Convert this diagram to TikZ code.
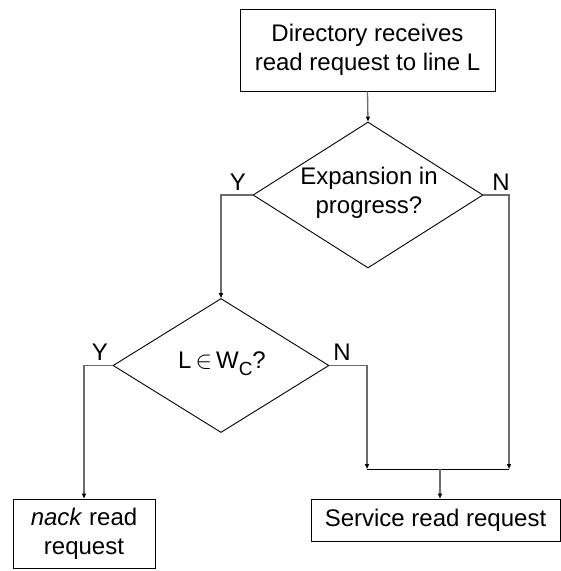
\documentclass[tikz,border=0pt]{standalone}
\usepackage{fontspec}
\setmainfont{Liberation Sans}
\usetikzlibrary{shapes.geometric,arrows.meta}
\begin{document}
\begin{tikzpicture}[x=1pt,y=-1pt,
  every node/.style={font=\fontsize{24}{29}\selectfont},
  box/.style={draw=black,line width=0.9pt,inner sep=0pt,align=center},
  dia/.style={draw=black,line width=0.9pt,diamond,inner sep=0pt,align=center},
  conn/.style={draw=black!58,line width=1.3pt,-{Triangle[length=5pt,width=4pt,fill=black,color=black]}},
  lbl/.style={inner sep=0pt}]
\useasboundingbox (0,0) rectangle (561,571);
\node[box,minimum width=255pt,minimum height=82pt] (top) at (367.5,50) {Directory receives\\read request to line L};
\node[dia,minimum width=230pt,minimum height=146pt] (d1) at (368,195) {};
\node[align=center] (t1) at (369,193) {Expansion in\\progress?};
\node[dia,minimum width=216pt,minimum height=134pt] (d2) at (221,365.5) {};
\node (t2) at (222,364) {L\,$\in$\,W\raisebox{-7pt}{\fontsize{19}{19}\selectfont C}?};
\node[box,minimum width=142pt,minimum height=69pt] (nack) at (84,533.5) {\textit{nack} read\\request};
\node[box,minimum width=249pt,minimum height=42pt] (svc) at (435.5,520) {Service read request};
\node[lbl] (y1) at (238,182) {Y};
\node[lbl] (n1) at (501,182) {N};
\node[lbl] (y2) at (100,352) {Y};
\node[lbl] (n2) at (342,352) {N};
\coordinate (jL) at (367,469);
\coordinate (jR) at (509,469);
\coordinate (jM) at (440,469);
\draw[conn] (top.south) -- (d1.north);
\draw[conn] (d1.west) -| (d2.north);
\draw[conn] (d1.east) -| (jR);
\draw[conn] (d2.east) -| (jL);
\draw[conn] (d2.west) -| (nack.north);
\draw[black,line width=1pt] (jL) -- (jR);
\draw[conn] (jM) -- (jM |- svc.north);
\end{tikzpicture}
\end{document}
